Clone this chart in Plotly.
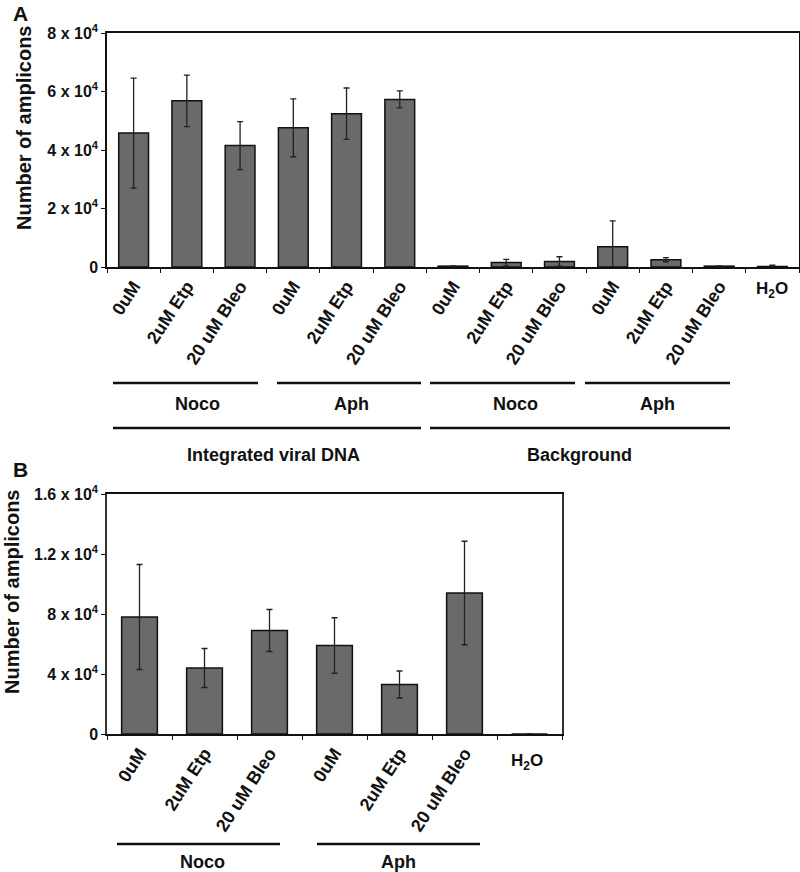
import plotly.graph_objects as go

# ---------------- data ----------------
treatments = ["0uM", "2uM Etp", "20 uM Bleo"]

a_keys = ["IV-Noco-0", "IV-Noco-Etp", "IV-Noco-Bleo",
          "IV-Aph-0", "IV-Aph-Etp", "IV-Aph-Bleo",
          "BG-Noco-0", "BG-Noco-Etp", "BG-Noco-Bleo",
          "BG-Aph-0", "BG-Aph-Etp", "BG-Aph-Bleo",
          "H2O"]
a_labels = treatments * 4 + [""]
a_values = [45800, 56800, 41500, 47600, 52400, 57300,
            300, 1500, 1900, 6900, 2500, 300, 200]
a_errors = [18800, 8800, 8200, 9900, 8800, 2900,
            100, 1100, 1600, 8900, 700, 100, 400]
a_ytickvals = [0, 20000, 40000, 60000, 80000]
a_yticktext = ["0", "2 x 10<sup>4</sup>", "4 x 10<sup>4</sup>",
               "6 x 10<sup>4</sup>", "8 x 10<sup>4</sup>"]

b_keys = ["Noco-0", "Noco-Etp", "Noco-Bleo", "Aph-0", "Aph-Etp", "Aph-Bleo", "H2O"]
b_labels = treatments * 2 + [""]
b_values = [7800, 4400, 6900, 5900, 3300, 9400, 0]
b_errors = [3500, 1300, 1400, 1850, 900, 3450, 0]
b_ytickvals = [0, 4000, 8000, 12000, 16000]
b_yticktext = ["0", "4 x 10<sup>4</sup>", "8 x 10<sup>4</sup>",
               "1.2 x 10<sup>4</sup>", "1.6 x 10<sup>4</sup>"]

# ---------------- layout helpers ----------------
W, H = 800, 872
FONT = "Liberation Sans, Arial, Helvetica, sans-serif"
BAR = "#6a6a6a"


def px(x):
    return x / W


def py(y):
    return 1 - y / H


fig = go.Figure()

fig.add_trace(go.Bar(
    x=a_keys, y=a_values, xaxis="x", yaxis="y",
    marker=dict(color=BAR, line=dict(color="#111111", width=1.5)),
    error_y=dict(type="data", array=a_errors, color="#222222", thickness=1.3, width=3),
    width=0.56, showlegend=False))

fig.add_trace(go.Bar(
    x=b_keys, y=b_values, xaxis="x2", yaxis="y2",
    marker=dict(color=BAR, line=dict(color="#111111", width=1.5)),
    error_y=dict(type="data", array=b_errors, color="#222222", thickness=1.3, width=3),
    width=0.55, showlegend=False))

xaxis_common = dict(type="category", showline=True, linecolor="#111111", linewidth=1.5,
                    mirror=True, ticks="outside", ticklen=4, tickcolor="#111111",
                    tickson="boundaries", tickangle=-57, showgrid=False, zeroline=False,
                    tickfont=dict(family=FONT, size=18, color="#111111"), automargin=False)
yaxis_common = dict(showline=True, linecolor="#111111", linewidth=1.5, mirror=True,
                    ticks="outside", ticklen=4, tickcolor="#111111", showgrid=False,
                    zeroline=False, tickfont=dict(family=FONT, size=16, color="#111111"),
                    automargin=False)

fig.update_layout(
    width=W, height=H, margin=dict(l=0, r=0, t=0, b=0, autoexpand=False),
    paper_bgcolor="white", plot_bgcolor="white", bargap=0.44,
    xaxis=dict(xaxis_common, domain=[px(107), px(799)], anchor="y",
               tickvals=a_keys, ticktext=[f"<b>{t}</b>" if t else "" for t in a_labels],
               range=[-0.5, len(a_keys) - 0.5]),
    yaxis=dict(yaxis_common, domain=[py(267), py(33)], anchor="x", range=[0, 80000],
               tickvals=a_ytickvals, ticktext=[f"<b>{t}</b>" for t in a_yticktext]),
    xaxis2=dict(xaxis_common, domain=[px(107), px(562)], anchor="y2",
                tickvals=b_keys, ticktext=[f"<b>{t}</b>" if t else "" for t in b_labels],
                range=[-0.5, len(b_keys) - 0.5]),
    yaxis2=dict(yaxis_common, domain=[py(734), py(494)], anchor="x2", range=[0, 16000],
                tickvals=b_ytickvals, ticktext=[f"<b>{t}</b>" for t in b_yticktext],
                linecolor="#333333"),
)

shapes = []
annotations = []


def hline(x0, x1, y, w=2.5):
    shapes.append(dict(type="line", xref="paper", yref="paper",
                       x0=px(x0), x1=px(x1), y0=py(y), y1=py(y),
                       line=dict(color="#111111", width=w)))


def text(x, y, s, size=18, angle=0, yanchor="middle"):
    annotations.append(dict(xref="paper", yref="paper", x=px(x), y=py(y), text=s,
                            showarrow=False, textangle=angle, xanchor="center",
                            yanchor=yanchor,
                            font=dict(family=FONT, size=size, color="#111111")))


# panel A grouping
hline(113, 258, 383)
hline(277, 421, 383)
hline(430, 575, 383)
hline(585, 730, 383)
text(197, 404, "<b>Noco</b>")
text(351, 404, "<b>Aph</b>")
text(515, 404, "<b>Noco</b>")
text(657, 404, "<b>Aph</b>")
hline(113, 421, 428)
hline(430, 730, 428)
text(273, 455, "<b>Integrated viral DNA</b>")
text(579, 455, "<b>Background</b>")
text(772, 290, "<b>H<sub>2</sub>O</b>", size=17)

# panel B grouping
hline(117, 280, 844)
hline(317, 480, 844)
text(203, 862, "<b>Noco</b>")
text(398, 862, "<b>Aph</b>")
text(527, 762, "<b>H<sub>2</sub>O</b>", size=17)

# axis titles and panel letters
text(24, 128, "<b>Number of amplicons</b>", size=20, angle=-90)
text(12, 592, "<b>Number of amplicons</b>", size=20, angle=-90)
text(20, 14, "<b>A</b>", size=21)
text(20, 469, "<b>B</b>", size=21)

fig.update_layout(shapes=shapes, annotations=annotations)
fig.write_html("out.html", config={"displayModeBar": False},
               post_script="document.body.style.margin='0';document.body.style.padding='0';")
